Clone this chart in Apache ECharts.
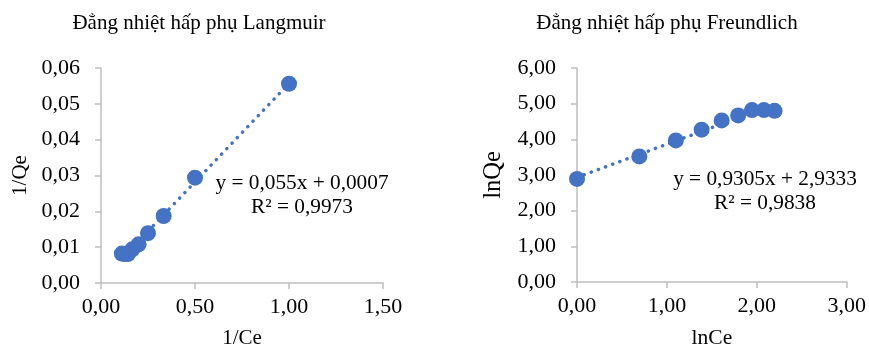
<!DOCTYPE html>
<html><head><meta charset="utf-8">
<script src="https://cdn.jsdelivr.net/npm/echarts@6/dist/echarts.min.js"></script>
<style>html,body{margin:0;padding:0;background:#fff}#c{width:869px;height:354px}</style>
</head><body><div id="c"></div>
<script>
// Data
const invCe = [1.0000, 0.5000, 0.3333, 0.2500, 0.2000, 0.1667, 0.1429, 0.1250, 0.1111];
const invQe = [0.0556, 0.0294, 0.0187, 0.0139, 0.0108, 0.0094, 0.0081, 0.0081, 0.0082];
const lnCe = [0.000, 0.693, 1.099, 1.386, 1.609, 1.792, 1.946, 2.079, 2.197];
const lnQe = [2.89, 3.52, 3.97, 4.27, 4.53, 4.67, 4.82, 4.82, 4.80];
const langmuirFit = {slope: 0.055, intercept: 0.0007, r2: '0,9973', eq: 'y = 0,055x + 0,0007'};
const freundFit = {slope: 0.9305, intercept: 2.9333, r2: '0,9838', eq: 'y = 0,9305x + 2,9333'};
const leftYTicks = {min: 0, max: 0.06, interval: 0.01};
const leftXTicks = {min: 0, max: 1.5, interval: 0.5};
const rightYTicks = {min: 0, max: 6, interval: 1};
const rightXTicks = {min: 0, max: 3, interval: 1};

const FONT = '"Liberation Serif", "Times New Roman", serif';
const BLUE = '#4472C4';
const fmt = v => v.toFixed(2).replace('.', ',');
const pairs = (xs, ys) => xs.map((x, i) => [x, ys[i]]);
const fitLine = (xs, f) => {
  const lo = Math.min(...xs), hi = Math.max(...xs);
  return [[lo, f.slope * lo + f.intercept], [hi, f.slope * hi + f.intercept]];
};
const axisCommon = {
  axisLine: {show: true, lineStyle: {color: '#bfbfbf', width: 1.5}},
  axisTick: {show: true, inside: false, length: 6, lineStyle: {color: '#bfbfbf', width: 1.5}},
  splitLine: {show: false},
  axisLabel: {fontFamily: FONT, fontSize: 22, color: '#000', formatter: fmt}
};
const nameStyle = size => ({fontFamily: FONT, fontSize: size, color: '#000'});
const chart = echarts.init(document.getElementById('c'));
chart.setOption({
  animation: false,
  backgroundColor: '#fff',
  title: [
    {text: 'Đẳng nhiệt hấp phụ Langmuir', left: 199, top: 13, textAlign: 'center', padding: 0,
     textStyle: {fontFamily: FONT, fontSize: 21, fontWeight: 'normal', color: '#000'}},
    {text: 'Đẳng nhiệt hấp phụ Freundlich', left: 667, top: 13, textAlign: 'center', padding: 0,
     textStyle: {fontFamily: FONT, fontSize: 21, fontWeight: 'normal', color: '#000'}}
  ],
  grid: [
    {left: 101, right: 486, top: 68, bottom: 66},
    {left: 577, right: 20, top: 68, bottom: 66}
  ],
  xAxis: [
    Object.assign({}, axisCommon, {gridIndex: 0, type: 'value', ...leftXTicks,
      name: '1/Ce', nameLocation: 'middle', nameGap: 45, nameTextStyle: nameStyle(21),
      axisLabel: Object.assign({}, axisCommon.axisLabel, {margin: 13})}),
    Object.assign({}, axisCommon, {gridIndex: 1, type: 'value', ...rightXTicks,
      name: 'lnCe', nameLocation: 'middle', nameGap: 45, nameTextStyle: nameStyle(21.5),
      axisLabel: Object.assign({}, axisCommon.axisLabel, {margin: 13})})
  ],
  yAxis: [
    Object.assign({}, axisCommon, {gridIndex: 0, type: 'value', ...leftYTicks,
      name: '1/Qe', nameLocation: 'middle', nameGap: 70, nameRotate: 90, nameTextStyle: nameStyle(21),
      axisLabel: Object.assign({}, axisCommon.axisLabel, {margin: 21})}),
    Object.assign({}, axisCommon, {gridIndex: 1, type: 'value', ...rightYTicks,
      name: 'lnQe', nameLocation: 'middle', nameGap: 71, nameRotate: 90, nameTextStyle: nameStyle(24.5),
      axisLabel: Object.assign({}, axisCommon.axisLabel, {margin: 21})})
  ],
  series: [
    {type: 'line', xAxisIndex: 0, yAxisIndex: 0, data: fitLine(invCe, langmuirFit),
     symbol: 'none', lineStyle: {color: BLUE, width: 3.5, type: [0.1, 7.5], cap: 'round'}, z: 1},
    {type: 'scatter', xAxisIndex: 0, yAxisIndex: 0, data: pairs(invCe, invQe),
     symbolSize: 16, itemStyle: {color: BLUE, opacity: 1}, z: 2},
    {type: 'line', xAxisIndex: 1, yAxisIndex: 1, data: fitLine(lnCe, freundFit),
     symbol: 'none', lineStyle: {color: BLUE, width: 3.5, type: [0.1, 7.5], cap: 'round'}, z: 1},
    {type: 'scatter', xAxisIndex: 1, yAxisIndex: 1, data: pairs(lnCe, lnQe),
     symbolSize: 16, itemStyle: {color: BLUE, opacity: 1}, z: 2}
  ],
  graphic: [
    {type: 'text', x: 302, y: 183, style: {text: langmuirFit.eq, font: '21.3px ' + FONT, fill: '#000', align: 'center', verticalAlign: 'middle'}},
    {type: 'text', x: 302, y: 207, style: {text: 'R² = ' + langmuirFit.r2, font: '21.3px ' + FONT, fill: '#000', align: 'center', verticalAlign: 'middle'}},
    {type: 'text', x: 765, y: 179, style: {text: freundFit.eq, font: '21.3px ' + FONT, fill: '#000', align: 'center', verticalAlign: 'middle'}},
    {type: 'text', x: 765, y: 203, style: {text: 'R² = ' + freundFit.r2, font: '21.3px ' + FONT, fill: '#000', align: 'center', verticalAlign: 'middle'}}
  ]
});
</script></body></html>
